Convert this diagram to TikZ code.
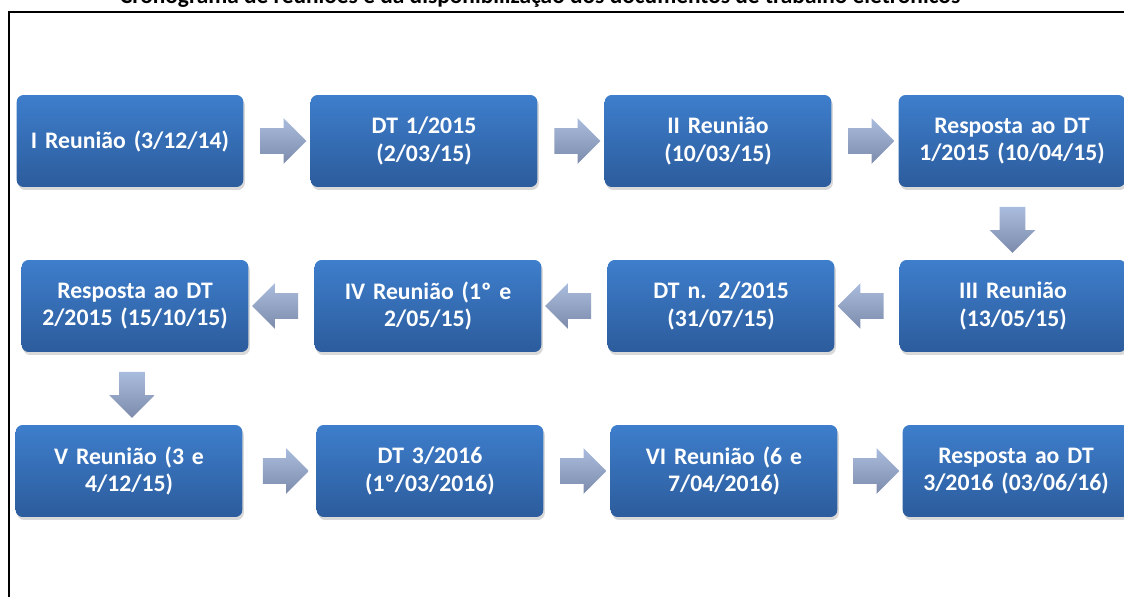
\documentclass[tikz,border=0pt]{standalone}
\usepackage{fontspec}
\setmainfont{Carlito}
\usepackage{tikz}
\usetikzlibrary{shapes.arrows,shadows,calc,positioning}

\definecolor{boxtop}{RGB}{62,126,204}
\definecolor{boxbottom}{RGB}{44,92,156}
\definecolor{arrowtop}{RGB}{170,188,221}
\definecolor{arrowbottom}{RGB}{124,139,172}

\begin{document}
\begin{tikzpicture}[x=0.02cm,y=-0.02cm,
    etapa/.style={rectangle, rounded corners=0.14cm, minimum width=4.46cm, minimum height=1.84cm,
      top color=boxtop, bottom color=boxbottom, text=white, text width=4.3cm, align=center,
      font=\fontsize{13.5}{15.4}\selectfont\bfseries,
      drop shadow={opacity=0.3, shadow xshift=0.03cm, shadow yshift=-0.06cm}},
    seta/.style={single arrow, minimum height=0.92cm, inner xsep=0pt, inner ysep=0.25cm,
      single arrow head extend=0.2cm, single arrow tip angle=90,
      top color=arrowtop, bottom color=arrowbottom, draw=none},
    setabaixo/.style={seta, shape border rotate=270, inner xsep=0.25cm, inner ysep=0pt}]
  \useasboundingbox (0,0) rectangle (1124,597);
  \node[anchor=base, font=\fontsize{13.3}{15}\selectfont\bfseries] (titulo) at (540,4)
    {Cronograma de reuniões e da disponibilização dos documentos de trabalho eletrônicos};
  \draw[line width=0.04cm] (9,620) -- (9,12) -- (1140,12);

  \node[etapa] (b1) at (130,141) {I Reunião (3/12/14)};
  \node[etapa] (b2) at (424,141) {DT 1/2015\\(2/03/15)};
  \node[etapa] (b3) at (718,141) {II Reunião\\(10/03/15)};
  \node[etapa] (b4) at (1012,141) {Resposta ao DT\\1/2015 (10/04/15)};

  \node[etapa] (c4) at (1013,306) {III Reunião\\(13/05/15)};
  \node[etapa] (c3) at (721,306) {DT n. 2/2015\\(31/07/15)};
  \node[etapa] (c2) at (428,306) {IV Reunião (1º e\\2/05/15)};
  \node[etapa] (c1) at (135,306) {Resposta ao DT\\2/2015 (15/10/15)};

  \node[etapa] (d1) at (129,471) {V Reunião (3 e\\4/12/15)};
  \node[etapa] (d2) at (430,471) {DT 3/2016\\(1º/03/2016)};
  \node[etapa] (d3) at (724,471) {VI Reunião (6 e\\7/04/2016)};
  \node[etapa] (d4) at (1016,471) {Resposta ao DT\\3/2016 (03/06/16)};

  \node[seta] (s1) at ($(b1.east)!0.5!(b2.west)$) {};
  \node[seta] (s2) at ($(b2.east)!0.5!(b3.west)$) {};
  \node[seta] (s3) at ($(b3.east)!0.5!(b4.west)$) {};
  \node[setabaixo] (s4) at ($(b4.south)!0.5!(c4.north)$) {};
  \node[seta, shape border rotate=180] (s5) at ($(c4.west)!0.5!(c3.east)$) {};
  \node[seta, shape border rotate=180] (s6) at ($(c3.west)!0.5!(c2.east)$) {};
  \node[seta, shape border rotate=180] (s7) at ($(c2.west)!0.5!(c1.east)$) {};
  \node[setabaixo] (s8) at ($(c1.south)!0.5!(d1.north)$) {};
  \node[seta] (s9) at ($(d1.east)!0.5!(d2.west)$) {};
  \node[seta] (s10) at ($(d2.east)!0.5!(d3.west)$) {};
  \node[seta] (s11) at ($(d3.east)!0.5!(d4.west)$) {};
\end{tikzpicture}
\end{document}
